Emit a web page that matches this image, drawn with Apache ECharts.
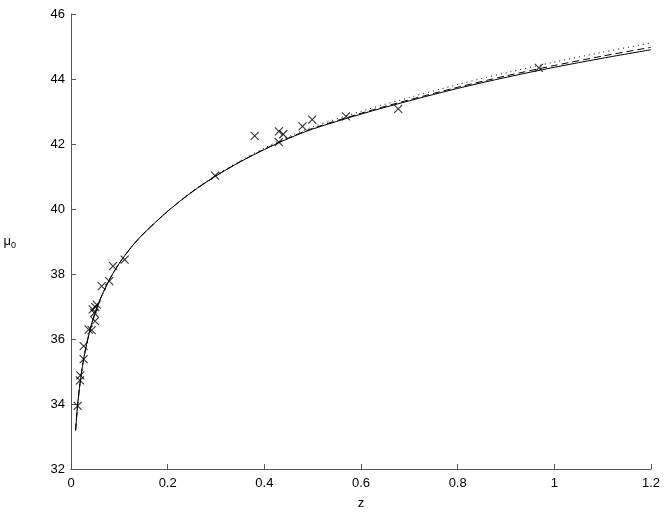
<!DOCTYPE html>
<html>
<head>
<meta charset="utf-8">
<script src="https://cdn.jsdelivr.net/npm/echarts@6/dist/echarts.min.js"></script>
<style>html,body{margin:0;padding:0;background:#fff}#c{width:664px;height:515px}</style>
</head>
<body>
<div id="c"></div>
<script>
// Curve sample redshifts
var curveZ = [0.0096,0.0125,0.015,0.02,0.025,0.03,0.04,0.05,0.06,0.08,0.1,0.125,0.15,0.2,0.25,0.3,0.35,0.4,0.45,0.5,0.6,0.7,0.8,0.9,1.0,1.1,1.2];
// Solid model curve
var muSolid = [33.19,33.76,34.16,34.79,35.28,35.68,36.32,36.81,37.21,37.84,38.33,38.83,39.24,39.93,40.52,41.02,41.45,41.83,42.17,42.46,42.92,43.33,43.71,44.05,44.36,44.64,44.90];
// Dashed model curve
var muDashed = [33.19,33.76,34.16,34.79,35.28,35.68,36.32,36.81,37.21,37.84,38.33,38.83,39.24,39.93,40.52,41.02,41.455,41.84,42.185,42.48,42.945,43.36,43.745,44.095,44.415,44.705,44.975];
// Dotted model curve
var muDotted = [33.19,33.76,34.16,34.79,35.28,35.68,36.32,36.81,37.21,37.84,38.33,38.83,39.24,39.935,40.53,41.04,41.48,41.875,42.225,42.525,43.005,43.43,43.83,44.19,44.52,44.825,45.11];
// Observed supernovae
var obsZ = [0.0138,0.0193,0.0186,0.0262,0.0262,0.0366,0.0428,0.0497,0.0483,0.0449,0.0503,0.0532,0.0635,0.0792,0.0869,0.111,0.298,0.380,0.430,0.430,0.439,0.479,0.499,0.569,0.677,0.968];
var obsMu = [33.94,34.88,34.73,35.38,35.78,36.29,36.27,36.55,36.80,36.91,36.98,37.06,37.63,37.78,38.24,38.44,41.03,42.25,42.06,42.39,42.30,42.54,42.75,42.85,43.08,44.34];
var xTicks = [0,0.2,0.4,0.6,0.8,1,1.2];
var yTicks = [32,34,36,38,40,42,44,46];

function pairs(xs, ys){ return xs.map(function(x,i){ return [x, ys[i]]; }); }

var chart = echarts.init(document.getElementById('c'), null, {renderer:'canvas'});
var font = 'Liberation Sans, Arial, Helvetica, sans-serif';
var axisCol = '#555';
chart.setOption({
  animation:false,
  grid:{left:71, right:13, top:14, bottom:46, containLabel:false},
  xAxis:{
    type:'value', min:xTicks[0], max:xTicks[xTicks.length-1], interval:0.2,
    name:'z', nameLocation:'middle', nameGap:28,
    nameTextStyle:{color:'#000', fontFamily:font, fontSize:13},
    axisLine:{show:true, onZero:false, lineStyle:{color:axisCol, width:1}},
    axisTick:{show:true, inside:true, length:5, lineStyle:{color:axisCol}},
    axisLabel:{color:'#000', fontFamily:font, fontSize:13, margin:8,
      formatter:function(v){ return String(Math.round(v*10)/10); }},
    splitLine:{show:false}
  },
  yAxis:{
    type:'value', min:yTicks[0], max:yTicks[yTicks.length-1], interval:2,
    name:'μ{s|0}', nameLocation:'middle', nameGap:55, nameRotate:0,
    nameTextStyle:{color:'#000', fontFamily:font, fontSize:13,
      rich:{s:{fontSize:9, fontFamily:font, verticalAlign:'bottom', padding:[8,0,0,0]}}},
    axisLine:{show:true, onZero:false, lineStyle:{color:axisCol, width:1}},
    axisTick:{show:true, inside:true, length:5, lineStyle:{color:axisCol}},
    axisLabel:{color:'#000', fontFamily:font, fontSize:13, margin:6},
    splitLine:{show:false}
  },
  series:[
    {type:'line', data:pairs(curveZ, muDotted), smooth:0.3, symbol:'none',
     lineStyle:{color:'#000', width:1, type:[1,4]}},
    {type:'line', data:pairs(curveZ, muDashed), smooth:0.3, symbol:'none',
     lineStyle:{color:'#000', width:1, type:[7,4]}},
    {type:'line', data:pairs(curveZ, muSolid), smooth:0.3, symbol:'none',
     lineStyle:{color:'#000', width:1}},
    {type:'scatter', data:pairs(obsZ, obsMu),
     symbol:'path://M0,0L10,10M10,0L0,10', symbolSize:8,
     itemStyle:{color:'none', borderColor:'#000', borderWidth:1.1}}
  ]
});
</script>
</body>
</html>
